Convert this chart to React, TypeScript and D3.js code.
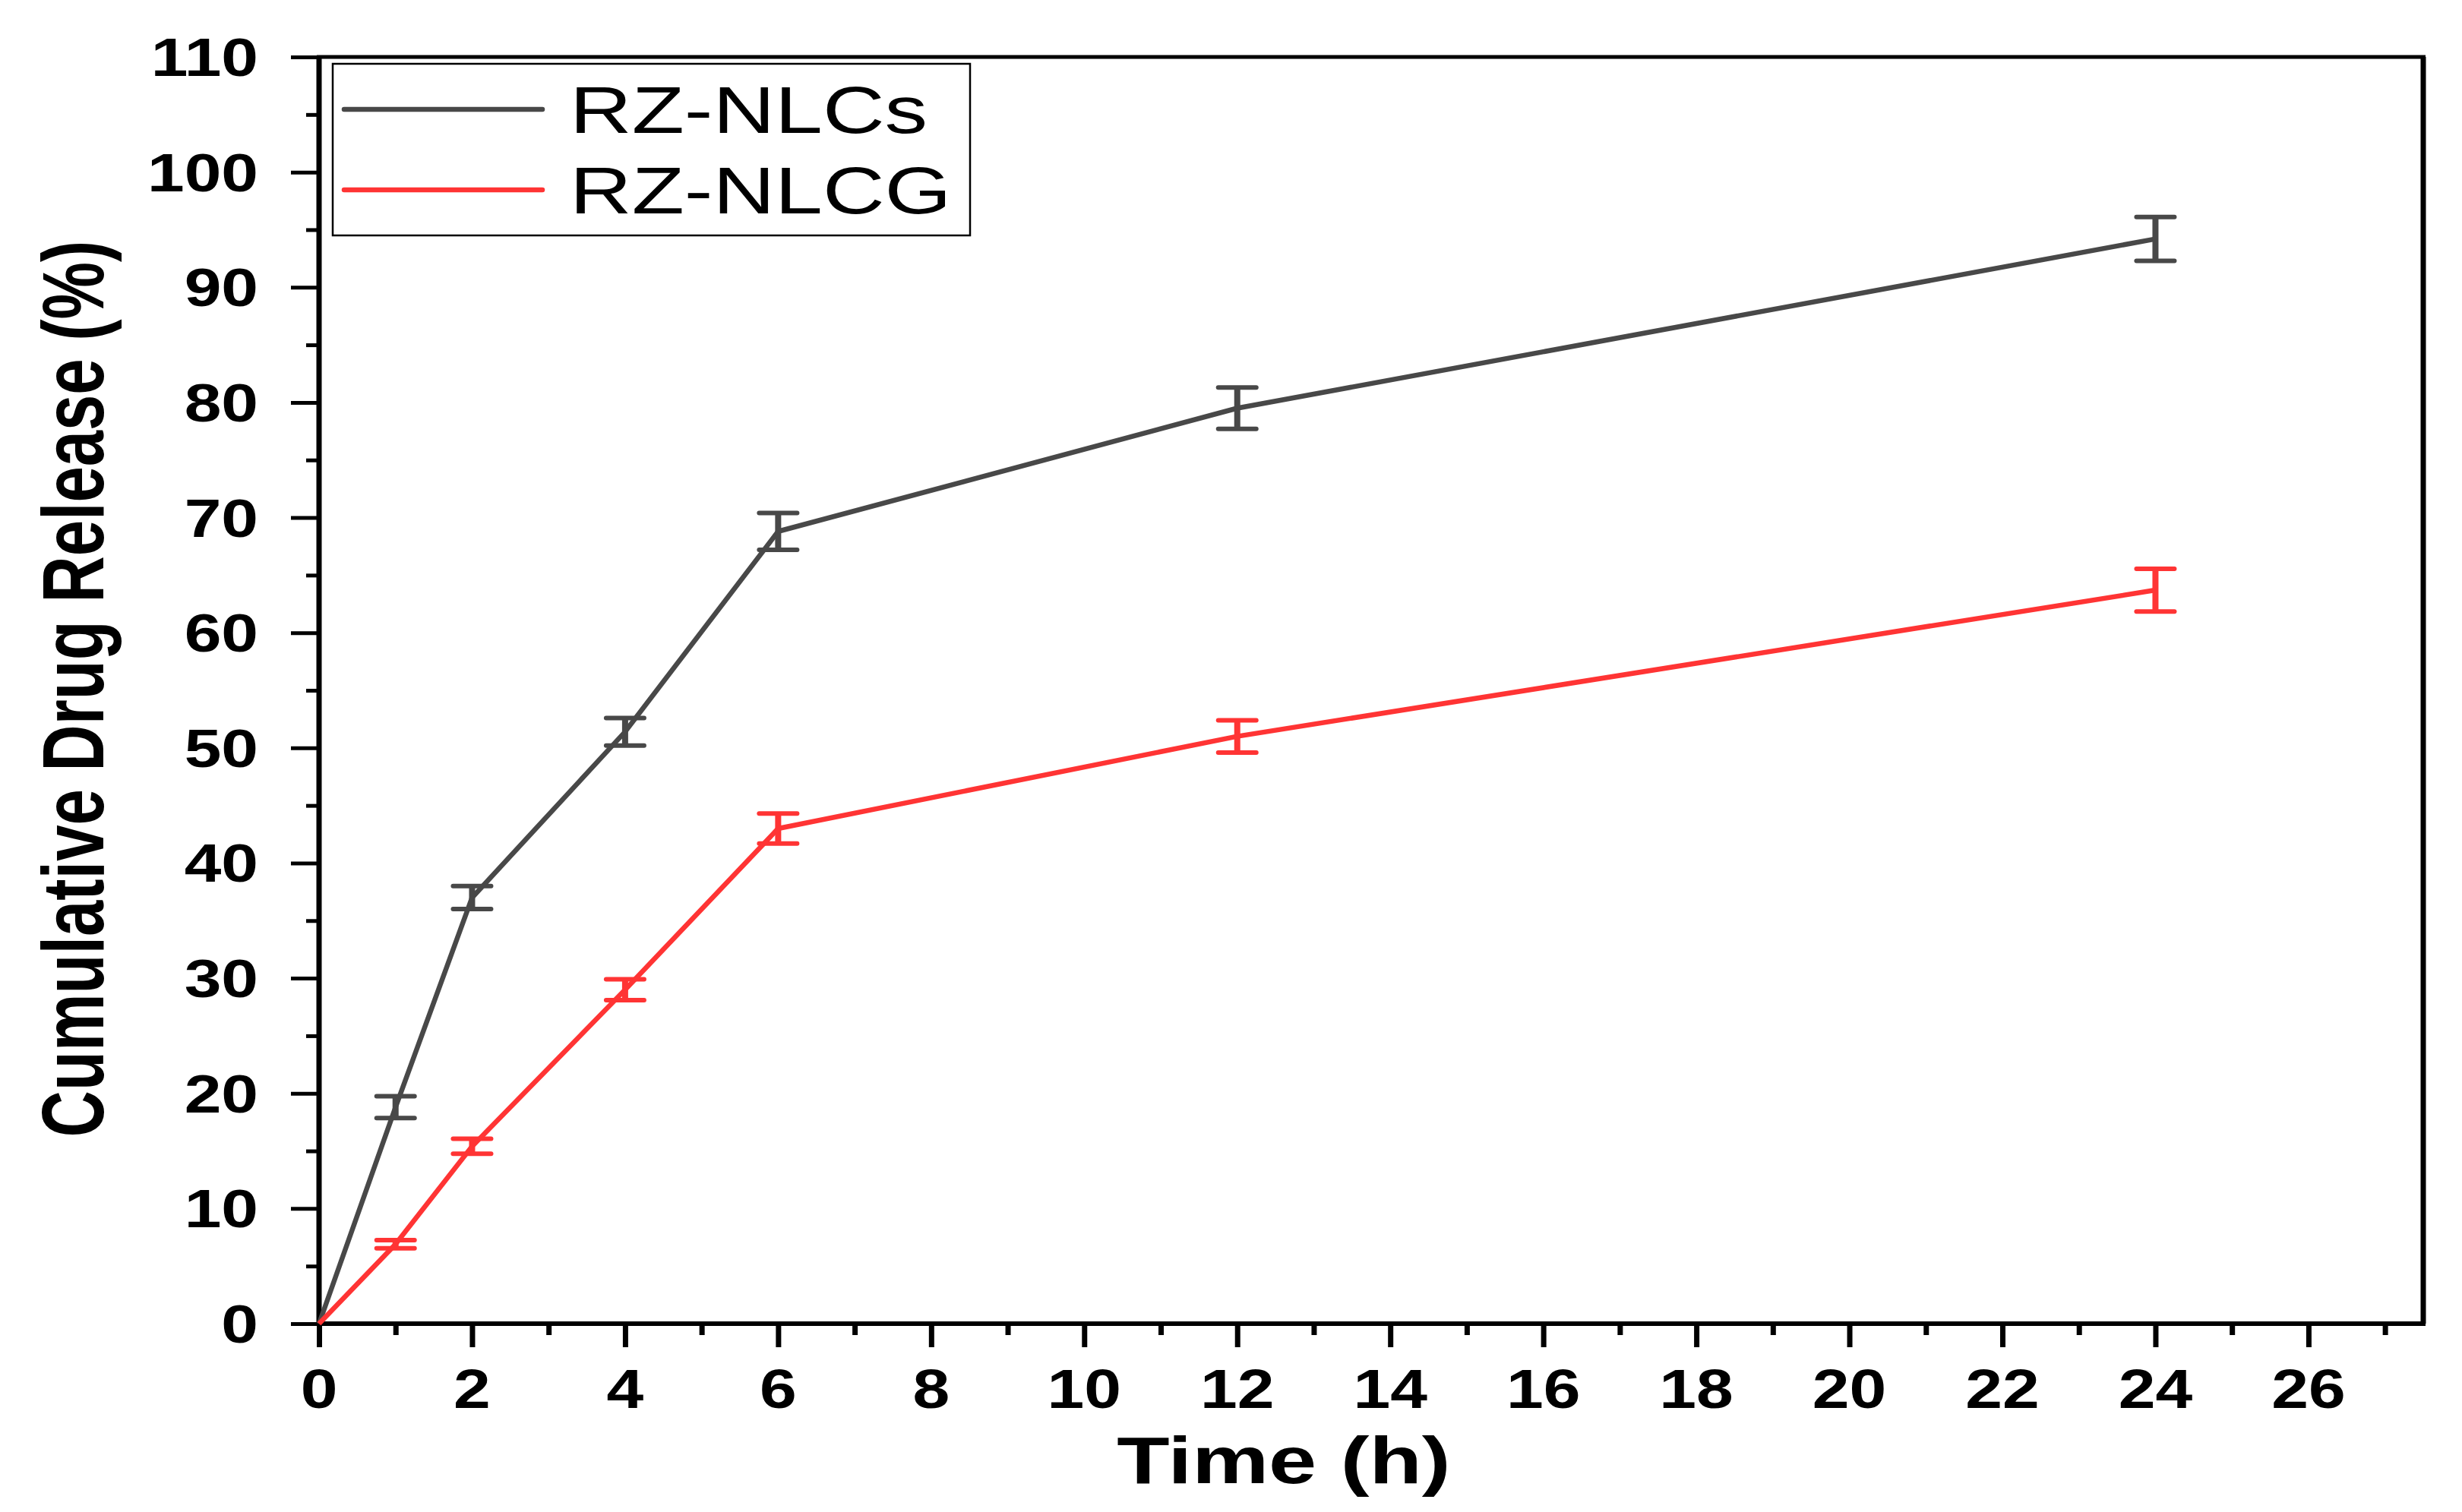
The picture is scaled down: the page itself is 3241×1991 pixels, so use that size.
import { useEffect, useRef } from "react"
import * as d3 from "d3"

// Sampling times (h)
const times = [0, 1, 2, 4, 6, 12, 24]

// RZ-NLCs series
const nlcsRelease = [0, 18.8, 37.0, 51.4, 68.8, 79.5, 94.2]
const nlcsError = [0, 0.95, 1.0, 1.2, 1.6, 1.8, 1.9]

// RZ-NLCG series
const nlcgRelease = [0, 6.9, 15.4, 29.0, 43.0, 51.0, 63.7]
const nlcgError = [0, 0.35, 0.65, 0.9, 1.3, 1.4, 1.85]

// Tick values
const xMajorTicks = [0, 2, 4, 6, 8, 10, 12, 14, 16, 18, 20, 22, 24, 26]
const xMinorTicks = [1, 3, 5, 7, 9, 11, 13, 15, 17, 19, 21, 23, 25, 27]
const yMajorTicks = [0, 10, 20, 30, 40, 50, 60, 70, 80, 90, 100, 110]
const yMinorTicks = [5, 15, 25, 35, 45, 55, 65, 75, 85, 95, 105]

const seriesNames = ["RZ-NLCs", "RZ-NLCG"]
const seriesColors = ["#484848", "#ff3434"]

const FONT = "'Liberation Sans', Arial, sans-serif"

export default function App() {
  const svgRef = useRef<SVGSVGElement | null>(null)

  useEffect(() => {
    if (!svgRef.current) return
    const svg = d3.select(svgRef.current)
    svg.selectAll("*").remove()

    const left = 420
    const right = 3190
    const top = 75
    const bottom = 1743

    const x = d3.scaleLinear().domain([0, 27.5]).range([left, right])
    const y = d3.scaleLinear().domain([0, 110]).range([bottom, top])

    // x ticks
    const xAxisMajor = svg
      .append("g")
      .attr("transform", `translate(0,${bottom})`)
      .call(d3.axisBottom(x).tickValues(xMajorTicks).tickSize(31).tickFormat(() => ""))
    const xAxisMinor = svg
      .append("g")
      .attr("transform", `translate(0,${bottom})`)
      .call(d3.axisBottom(x).tickValues(xMinorTicks).tickSize(15).tickFormat(() => ""))
    ;[xAxisMajor, xAxisMinor].forEach((g) => {
      g.select(".domain").remove()
      g.selectAll("line").attr("stroke", "#000").attr("stroke-width", 7)
    })

    // y ticks
    const yAxisMajor = svg
      .append("g")
      .attr("transform", `translate(${left},0)`)
      .call(d3.axisLeft(y).tickValues(yMajorTicks).tickSize(37).tickFormat(() => ""))
    const yAxisMinor = svg
      .append("g")
      .attr("transform", `translate(${left},0)`)
      .call(d3.axisLeft(y).tickValues(yMinorTicks).tickSize(17).tickFormat(() => ""))
    ;[yAxisMajor, yAxisMinor].forEach((g) => {
      g.select(".domain").remove()
      g.selectAll("line").attr("stroke", "#000").attr("stroke-width", 5)
    })

    // tick labels
    svg
      .append("g")
      .selectAll("text")
      .data(xMajorTicks)
      .enter()
      .append("text")
      .attr("transform", (d) => `translate(${x(d)},1854) scale(1.2,1)`)
      .attr("text-anchor", "middle")
      .attr("font-family", FONT)
      .attr("font-weight", "bold")
      .attr("font-size", 73)
      .text((d) => d)

    svg
      .append("g")
      .selectAll("text")
      .data(yMajorTicks)
      .enter()
      .append("text")
      .attr("transform", (d) => `translate(340,${y(d) + 25}) scale(1.25,1)`)
      .attr("text-anchor", "end")
      .attr("font-family", FONT)
      .attr("font-weight", "bold")
      .attr("font-size", 70)
      .text((d) => d)

    // axis titles
    svg
      .append("text")
      .attr("transform", "translate(1690,1953) scale(1.29,1)")
      .attr("text-anchor", "middle")
      .attr("font-family", FONT)
      .attr("font-weight", "bold")
      .attr("font-size", 88)
      .text("Time (h)")

    svg
      .append("text")
      .attr("transform", "translate(136,907) rotate(-90) scale(1,1.36)")
      .attr("text-anchor", "middle")
      .attr("font-family", FONT)
      .attr("font-weight", "bold")
      .attr("font-size", 85)
      .text("Cumulative Drug Release (%)")

    // frame
    const frame = svg.append("g").attr("stroke", "#000")
    frame.append("line").attr("x1", left - 3).attr("x2", right + 3).attr("y1", top).attr("y2", top).attr("stroke-width", 5)
    frame.append("line").attr("x1", left - 3).attr("x2", right + 3).attr("y1", bottom).attr("y2", bottom).attr("stroke-width", 6)
    frame.append("line").attr("x1", left).attr("x2", left).attr("y1", top).attr("y2", bottom).attr("stroke-width", 7)
    frame.append("line").attr("x1", right).attr("x2", right).attr("y1", top).attr("y2", bottom).attr("stroke-width", 7)

    // series
    const series = [
      { values: nlcsRelease, errors: nlcsError },
      { values: nlcgRelease, errors: nlcgError },
    ]

    const line = d3
      .line<number>()
      .x((_, i) => x(times[i]))
      .y((d) => y(d))

    series.forEach((s, k) => {
      const color = seriesColors[k]
      const g = svg.append("g")

      g.append("path")
        .datum(s.values)
        .attr("fill", "none")
        .attr("stroke", color)
        .attr("stroke-width", 6.5)
        .attr("stroke-linejoin", "round")
        .attr("d", line)

      const bars = s.values
        .map((v, i) => ({ t: times[i], v, e: s.errors[i] }))
        .filter((d) => d.e > 0)

      g.selectAll(".stem")
        .data(bars)
        .enter()
        .append("line")
        .attr("x1", (d) => x(d.t))
        .attr("x2", (d) => x(d.t))
        .attr("y1", (d) => y(d.v - d.e))
        .attr("y2", (d) => y(d.v + d.e))
        .attr("stroke", color)
        .attr("stroke-width", 8)

      ;[1, -1].forEach((sign) => {
        g.selectAll(".cap" + sign)
          .data(bars)
          .enter()
          .append("line")
          .attr("x1", (d) => x(d.t) - 25)
          .attr("x2", (d) => x(d.t) + 25)
          .attr("y1", (d) => y(d.v + sign * d.e))
          .attr("y2", (d) => y(d.v + sign * d.e))
          .attr("stroke", color)
          .attr("stroke-width", 6)
          .attr("stroke-linecap", "round")
      })
    })

    // legend
    const legend = svg.append("g")
    legend
      .append("rect")
      .attr("x", 438)
      .attr("y", 84)
      .attr("width", 839)
      .attr("height", 226)
      .attr("fill", "#fff")
      .attr("stroke", "#000")
      .attr("stroke-width", 2.5)

    const legendY = [144, 250]
    seriesNames.forEach((name, k) => {
      legend
        .append("line")
        .attr("x1", 453)
        .attr("x2", 714)
        .attr("y1", legendY[k])
        .attr("y2", legendY[k])
        .attr("stroke", seriesColors[k])
        .attr("stroke-width", 6.5)
        .attr("stroke-linecap", "round")
      legend
        .append("text")
        .attr("transform", `translate(750,${legendY[k] + 31}) scale(1.3,1)`)
        .attr("font-family", FONT)
        .attr("font-size", 87)
        .attr("fill", "#000")
        .text(name)
    })
  }, [])

  return (
    <svg
      ref={svgRef}
      width={3241}
      height={1991}
      style={{ position: "absolute", left: 0, top: 0, background: "#fff" }}
    ></svg>
  )
}
